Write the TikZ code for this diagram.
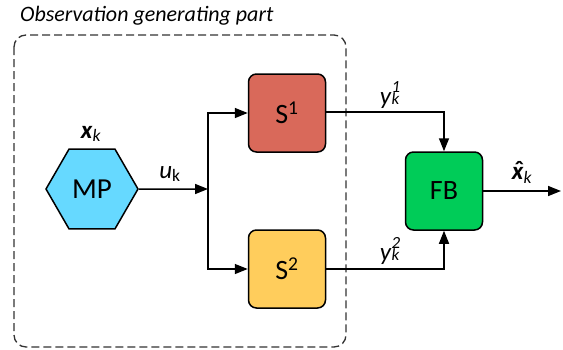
\documentclass[tikz,border=0pt]{standalone}
\usepackage{fontspec}
\setmainfont{Carlito}
\usetikzlibrary{arrows.meta,shapes.geometric}
\definecolor{cS1}{RGB}{217,105,90}
\definecolor{cS2}{RGB}{255,205,92}
\definecolor{cFB}{RGB}{0,204,88}
\definecolor{cMP}{RGB}{102,217,255}
\tikzset{
  blk/.style={draw=black, line width=1.5pt, rounded corners=8pt, minimum width=77pt, minimum height=78pt, inner sep=0pt, font=\fontsize{28}{30}\selectfont},
  hexa/.style={draw=black, line width=1.5pt, regular polygon, regular polygon sides=6, minimum size=92pt, inner sep=0pt, fill=cMP, font=\fontsize{29}{31}\selectfont},
  conn/.style={line width=1.5pt, -{Triangle[length=13pt,width=10pt]}},
  lbl/.style={font=\fontsize{25}{27}\selectfont, inner sep=0pt},
}
\newcommand{\stk}[2]{\textit{y}\begin{tabular}[b]{@{}l@{}}\fontsize{17}{17}\selectfont\textit{#2}\\[-0.62em]\fontsize{17}{17}\selectfont\textit{#1}\end{tabular}}
\begin{document}
\begin{tikzpicture}[x=1pt,y=-1pt]
\useasboundingbox (0,0) rectangle (563,349);
\draw[line width=1.3pt, draw=black!80, dash pattern=on 8pt off 4pt, rounded corners=12pt] (14,35) rectangle (346,347);
\node[anchor=west, inner sep=0pt, font=\fontsize{22}{24}\selectfont\itshape] (title) at (20,16) {Observation generating part};
\node[hexa] (MP) at (92,189) {MP};
\node[blk, fill=cS1] (S1) at (287,113) {S\textsuperscript{1}};
\node[blk, fill=cS2] (S2) at (287,269) {S\textsuperscript{2}};
\node[blk, fill=cFB] (FB) at (444,191) {FB};
\coordinate (J) at (208,189);
\coordinate (out) at (561,191);
\node[lbl] (xk) at (91,134) {\textbf{\textit{x}}\textsubscript{\textit{k}}};
\node[lbl] (uk) at (170,174) {\textit{u}\textsubscript{k}};
\node[lbl] (y1) at (390,93) {\stk{k}{1}};
\node[lbl] (y2) at (390,249) {\stk{k}{2}};
\node[lbl] (xh) at (522,172) {\makebox[0pt][l]{\hspace{0.1em}\raisebox{0.05em}{\textbf{ˆ}}}\textbf{\textit{x}}\textsubscript{\textit{k}}};
\draw[conn] (MP.east) -- (J);
\draw[conn] (J) |- (S1.west);
\draw[conn] (J) |- (S2.west);
\draw[conn] ([yshift=1pt]S1.east) -| (FB.north);
\draw[conn] (S2.east) -| (FB.south);
\draw[conn] (FB.east) -- (out);
\end{tikzpicture}
\end{document}
